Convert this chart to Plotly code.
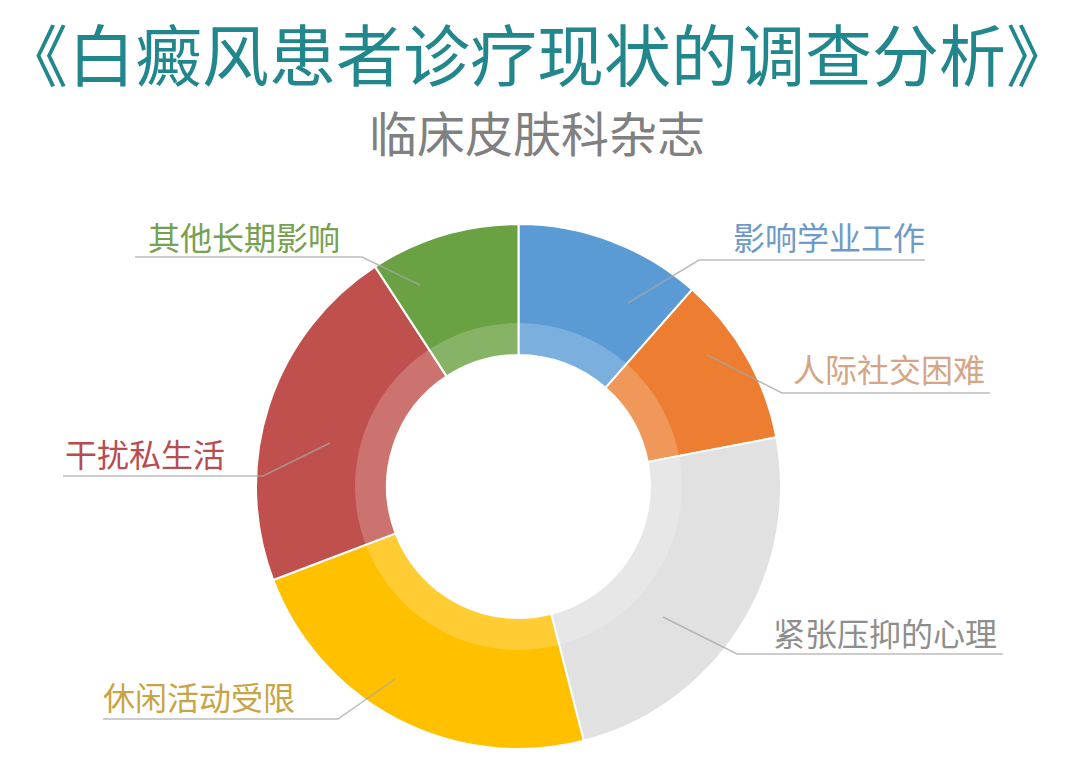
import plotly.graph_objects as go

# ---- data ----
categories = ["影响学业工作", "人际社交困难", "紧张压抑的心理", "休闲活动受限", "干扰私生活", "其他长期影响"]
values = [11.5, 10.5, 24.0, 23.2, 21.6, 9.2]
slice_colors = ["#5B9BD5", "#ED7D31", "#E1E1E1", "#FFC000", "#C0504D", "#6AA142"]
label_colors = ["#6F9AC8", "#D5A585", "#8E8E8E", "#C9A444", "#B84C50", "#76A151"]
title_text = "《白癜风患者诊疗现状的调查分析》"
subtitle_text = "临床皮肤科杂志"

# ---- layout constants (page pixels) ----
W, H = 1080, 763
CX, CY = 518.5, 486.5
R_OUT, R_BAND, R_HOLE = 262.5, 163.5, 131.5
FONT = "Noto Sans CJK SC"


def px(x, y):
    return x / W, 1 - y / H


def domain(r):
    return dict(x=[(CX - r) / W, (CX + r) / W], y=[1 - (CY + r) / H, 1 - (CY - r) / H])


# label anchor (left x, centre y) and leader polyline for each category
label_pos = [(731, 236), (791, 368), (771, 632), (101, 696), (63, 453), (146, 236)]
leaders = [
    [(628, 303), (699, 260), (925, 260)],
    [(707, 355), (782, 393), (990, 393)],
    [(663, 617), (737, 654), (1003, 654)],
    [(395, 679), (338, 719), (103, 719)],
    [(330, 443), (263, 476), (63, 476)],
    [(420, 285), (362, 257), (135, 257)],
]

fig = go.Figure()
fig.add_trace(go.Pie(
    labels=categories, values=values, sort=False, direction="clockwise", rotation=0,
    hole=R_HOLE / R_OUT, domain=domain(R_OUT),
    marker=dict(colors=slice_colors, line=dict(color="white", width=2)),
    textinfo="none", hoverinfo="label+value", showlegend=False,
))
fig.add_trace(go.Pie(
    labels=categories, values=values, sort=False, direction="clockwise", rotation=0,
    hole=R_HOLE / R_BAND, domain=domain(R_BAND),
    marker=dict(colors=["rgba(255,255,255,0.2)"] * len(values), line=dict(width=0)),
    textinfo="none", hoverinfo="skip", showlegend=False,
))

shapes = []
for pts in leaders:
    path = ""
    for i, (x, y) in enumerate(pts):
        u, v = px(x, y)
        path += ("M" if i == 0 else " L") + f" {u:.5f} {v:.5f}"
    shapes.append(dict(type="path", path=path, xref="paper", yref="paper",
                       line=dict(color="rgba(165,165,165,0.75)", width=1.5)))

annotations = []
for name, (x, y), c in zip(categories, label_pos, label_colors):
    u, v = px(x, y)
    annotations.append(dict(text=name, x=u, y=v, xref="paper", yref="paper",
                            xanchor="left", yanchor="middle", showarrow=False,
                            font=dict(family=FONT, size=32, color=c)))

# title + subtitle as one two-line text block, pinned to the top edge
head = (f"<span style='font-size:67px;color:#22878C'>{title_text}</span><br>"
        f"<span style='font-size:48px;color:#808080'>{subtitle_text}</span>")
u, v = px(537, 1)
annotations.append(dict(text=head, x=u, y=v, xref="paper", yref="paper",
                        xanchor="center", yanchor="top", align="center", showarrow=False,
                        font=dict(family=FONT, size=54.5, color="#22878C")))

fig.update_layout(
    width=W, height=H, margin=dict(l=0, r=0, t=0, b=0),
    paper_bgcolor="white", plot_bgcolor="white",
    shapes=shapes, annotations=annotations,
)
fig.write_html("out.html", config={"displayModeBar": False},
               post_script="document.body.style.margin='0';document.body.style.overflow='hidden';")
